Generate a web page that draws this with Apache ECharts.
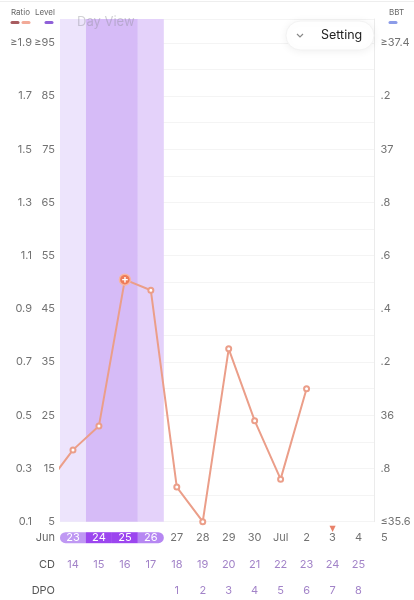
<!DOCTYPE html>
<html>
<head>
<meta charset="utf-8">
<script src="https://cdn.jsdelivr.net/npm/echarts@6/dist/echarts.min.js"></script>
<style>
  html, body { margin: 0; padding: 0; background: #fff; }
  #chart { width: 414px; height: 600px; }
</style>
</head>
<body>
<div id="chart"></div>
<script>
// day columns shown under the chart (Jun 23 .. Jul 5)
const dates = ['23', '24', '25', '26', '27', '28', '29', '30', 'Jul', '2', '3', '4', '5']
const cycleDays = ['14', '15', '16', '17', '18', '19', '20', '21', '22', '23', '24', '25', '']
const dpoDays = ['', '', '', '', '1', '2', '3', '4', '5', '6', '7', '8', '']
const todayMark = ['', '', '', '', '', '', '', '', '', '', '▼', '', '']

// ratio readings, first one is Jun 22 (just off the left edge)
const ratioDays = ['22', '23', '24', '25', '26', '27', '28', '29', '30', 'Jul', '2']
const ratioValues = [0.24, 0.37, 0.46, 1.01, 0.97, 0.23, 0.10, 0.75, 0.48, 0.26, 0.60]
const peakDay = '25'

// fertility shading
const bandFrom = ['23', '24', '26']
const bandTo = ['23', '25', '26']
const bandColors = ['#ede4fc', '#d6bbf7', '#e4d2fa']
const pillColors = ['#bf98f3', '#9c46ef', '#b687f2']

const FONT = 'Inter, Roboto, "Noto Sans", sans-serif'
const TICK = '#727272'
const PURPLE = '#a283c8'
const LINE = '#eb9e89'

const near = (a) => Math.abs(a - Math.round(a)) < 1e-6
// value x position: Jun 23 = 1, Jun 22 = 0
const dayPos = (d) => dates.indexOf(d) + 1

const chart = echarts.init(document.getElementById('chart'), null, { renderer: 'canvas' })

const pillStyle = (i) => {
  const r = i === 0 ? [6, 0, 0, 6] : i === 3 ? [0, 6, 6, 0] : 0
  const c = i === 0 ? pillColors[0] : i === 3 ? pillColors[2] : pillColors[1]
  return { backgroundColor: c, borderRadius: r, width: 26, height: 11, lineHeight: 11, align: 'center', color: '#fff', fontSize: 11, fontFamily: FONT }
}
const rich = { d: { color: TICK, fontSize: 11, fontFamily: FONT, width: 26, height: 11, lineHeight: 11, align: 'center' } }
for (let i = 0; i < 4; i++) rich['p' + i] = pillStyle(i)

const markData = bandFrom.map((f, i) => [
  { xAxis: dayPos(f) - 0.5, itemStyle: { color: bandColors[i] } },
  { xAxis: dayPos(bandTo[i]) + 0.5 }
])

const seriesData = ratioValues.map((v, i) => {
  if (ratioDays[i] === peakDay) {
    return {
      value: [i, v],
      symbol: 'circle',
      symbolSize: 11,
      itemStyle: { color: '#ee7b5a', borderColor: '#f7b7a4', borderWidth: 1.5 },
      label: { show: true, position: 'inside', formatter: '+', color: '#fff', fontSize: 11, fontWeight: 'bold', fontFamily: FONT }
    }
  }
  return [i, v]
})

const labelAxis = (data, offset, extra) => Object.assign({
  type: 'category',
  gridIndex: 1,
  position: 'bottom',
  offset: offset,
  data: data,
  boundaryGap: true,
  axisLine: { show: false },
  axisTick: { show: false },
  splitLine: { show: false }
}, extra)

chart.setOption({
  animation: false,
  textStyle: { fontFamily: FONT },
  grid: [
    { left: 60, right: 39.5, top: 19, bottom: 78.3 },
    { left: 60, right: 16.6, top: 19, bottom: 78.3 }
  ],
  xAxis: [
    { type: 'value', gridIndex: 1, min: 0.5, max: 13.5, show: false },
    labelAxis(dates, 0, {
      axisLabel: {
        interval: 0, margin: 10.5,
        formatter: (v, i) => (i < 4 ? '{p' + i + '|' + v + '}' : '{d|' + v + '}'),
        rich: rich
      }
    }),
    labelAxis(cycleDays, 27, { axisLabel: { interval: 0, margin: 10.5, color: PURPLE, fontSize: 11, fontFamily: FONT } }),
    labelAxis(dpoDays, 53, { axisLabel: { interval: 0, margin: 10.5, color: PURPLE, fontSize: 11, fontFamily: FONT } }),
    labelAxis(todayMark, 0, { axisLabel: { interval: 0, margin: 3.5, color: '#e9826a', fontSize: 8, fontFamily: 'DejaVu Sans' } }),
    { type: 'value', gridIndex: 0, min: 0, max: 1, show: false }
  ],
  yAxis: [
    {
      type: 'value', gridIndex: 0, position: 'left', min: 5, max: 99.5, interval: 5,
      axisLine: { show: false }, axisTick: { show: false },
      splitLine: { lineStyle: { color: '#f4f4f4', width: 1 } },
      axisLabel: {
        margin: 5, color: TICK, fontSize: 11, fontFamily: FONT,
        formatter: (v) => (near((v - 5) / 10) ? (Math.round(v) === 95 ? '≥95' : String(Math.round(v))) : '')
      }
    },
    {
      type: 'value', gridIndex: 0, position: 'left', offset: 23, min: 0.1, max: 1.99, interval: 0.2,
      axisLine: { show: false }, axisTick: { show: false }, splitLine: { show: false },
      axisLabel: {
        margin: 5, color: TICK, fontSize: 11, fontFamily: FONT,
        formatter: (v) => {
          if (!near((v - 0.1) / 0.2)) return ''
          const s = v.toFixed(1)
          return s === '1.9' ? '≥1.9' : s
        }
      }
    },
    {
      type: 'value', gridIndex: 0, position: 'right', min: 35.6, max: 37.49, interval: 0.2,
      axisLine: { show: true, lineStyle: { color: '#ebebeb', width: 1 } },
      axisTick: { show: false }, splitLine: { show: false },
      axisLabel: {
        margin: 6, color: TICK, fontSize: 11, fontFamily: FONT,
        formatter: (v) => {
          if (!near((v - 35.6) / 0.2)) return ''
          const t = Math.round(v * 10)
          if (t === 356) return '≤35.6'
          if (t === 374) return '≥37.4'
          if (t % 10 === 0) return String(t / 10)
          return '.' + (t % 10)
        }
      }
    },
    { type: 'value', gridIndex: 1, min: 0.1, max: 1.99, show: false }
  ],
  series: [
    {
      name: 'Ratio',
      type: 'line',
      xAxisIndex: 0,
      yAxisIndex: 3,
      clip: true,
      data: seriesData,
      symbol: 'emptyCircle',
      symbolSize: 5,
      showAllSymbol: true,
      lineStyle: { color: LINE, width: 2 },
      itemStyle: { color: LINE, borderWidth: 1.5 },
      emphasis: { disabled: true },
      z: 5,
      markArea: { silent: true, data: markData, z: 1 }
    }
  ],
  graphic: [
    { type: 'line', shape: { x1: 0, y1: 1.5, x2: 414, y2: 1.5 }, style: { stroke: '#eeeeee', lineWidth: 1 } },
    // legends
    { type: 'text', left: 11, top: 9, style: { text: 'Ratio', fontSize: 8, fill: '#666', fontFamily: FONT } },
    { type: 'line', shape: { x1: 12, y1: 22.5, x2: 18, y2: 22.5 }, style: { stroke: '#a85c60', lineWidth: 3, lineCap: 'round' } },
    { type: 'line', shape: { x1: 23, y1: 22.5, x2: 29, y2: 22.5 }, style: { stroke: '#f2aa98', lineWidth: 3, lineCap: 'round' } },
    { type: 'text', left: 35, top: 9, style: { text: 'Level', fontSize: 8, fill: '#666', fontFamily: FONT } },
    { type: 'line', shape: { x1: 46, y1: 22.5, x2: 52, y2: 22.5 }, style: { stroke: '#8f60d8', lineWidth: 3, lineCap: 'round' } },
    { type: 'text', left: 389, top: 9, style: { text: 'BBT', fontSize: 8, fill: '#666', fontFamily: FONT } },
    { type: 'line', shape: { x1: 390, y1: 22.5, x2: 396, y2: 22.5 }, style: { stroke: '#8c9ce8', lineWidth: 3, lineCap: 'round' } },
    { type: 'text', left: 77, top: 16, z: 30, style: { text: 'Day View', fontSize: 13, fill: 'rgba(140,140,150,0.4)', fontFamily: FONT } },
    // setting button
    {
      type: 'rect', shape: { x: 286, y: 21, width: 88, height: 29, r: 14.5 }, z: 20,
      style: { fill: '#fff', stroke: '#f2f2f2', lineWidth: 1, shadowBlur: 8, shadowColor: 'rgba(0,0,0,0.07)', shadowOffsetY: 1 }
    },
    { type: 'polyline', shape: { points: [[297, 34], [300, 37], [303, 34]] }, style: { stroke: '#888', lineWidth: 1.2, fill: null }, z: 21 },
    { type: 'text', left: 321, top: 29, style: { text: 'Setting', fontSize: 12.5, fill: '#222', fontFamily: FONT }, z: 21 },
    // row titles
    { type: 'text', right: 359, top: 532, style: { text: 'Jun', fontSize: 11, fill: '#666', fontFamily: FONT, align: 'right' } },
    { type: 'text', right: 359, top: 559, style: { text: 'CD', fontSize: 11, fill: '#555', fontFamily: FONT, align: 'right' } },
    { type: 'text', right: 359, top: 585, style: { text: 'DPO', fontSize: 11, fill: '#555', fontFamily: FONT, align: 'right' } }
  ]
})
</script>
</body>
</html>
